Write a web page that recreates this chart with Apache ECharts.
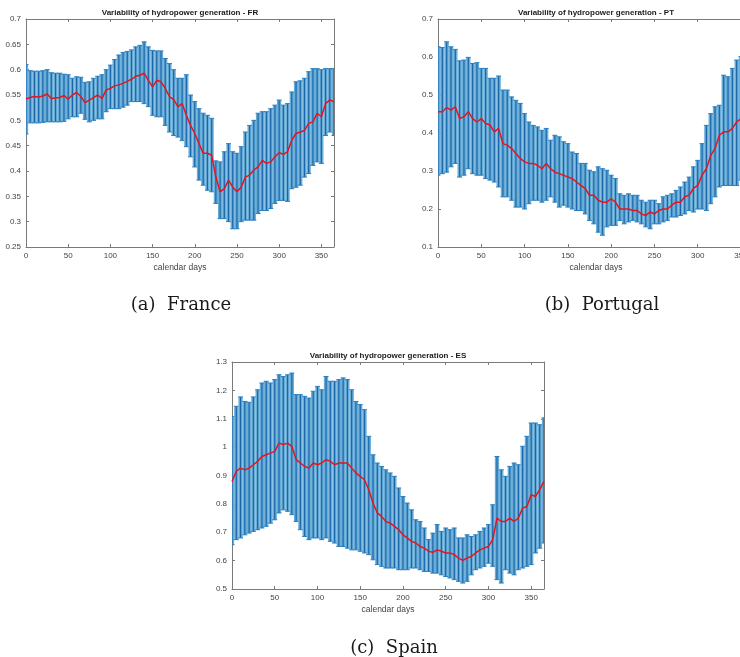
<!DOCTYPE html>
<html>
<head>
<meta charset="utf-8">
<script src="https://cdn.jsdelivr.net/npm/echarts@6/dist/echarts.min.js"></script>
<style>
html,body{margin:0;padding:0;background:#fff;overflow:hidden;width:740px;height:657px;}
#chart{width:770px;height:657px;}
</style>
</head>
<body>
<div id="chart"></div>
<script>
// calendar days (x values)
const days = [0,5,10,15,20,25,30,35,40,45,
  50,55,60,65,70,75,80,85,90,95,
  100,105,110,115,120,125,130,135,140,145,
  150,155,160,165,170,175,180,185,190,195,
  200,205,210,215,220,225,230,235,240,245,
  250,255,260,265,270,275,280,285,290,295,
  300,305,310,315,320,325,330,335,340,345,
  350,355,360,365];

// France
const frHigh = [0.61,0.598,0.597,0.597,0.598,0.6,0.594,0.593,0.593,0.591,
  0.59,0.583,0.586,0.585,0.575,0.576,0.583,0.587,0.59,0.6,
  0.609,0.62,0.629,0.634,0.636,0.639,0.645,0.648,0.655,0.645,
  0.638,0.637,0.637,0.622,0.612,0.6,0.583,0.583,0.59,0.55,
  0.537,0.523,0.514,0.51,0.504,0.42,0.418,0.438,0.454,0.438,
  0.435,0.448,0.477,0.49,0.5,0.514,0.517,0.517,0.523,0.53,
  0.54,0.53,0.533,0.556,0.576,0.578,0.583,0.596,0.602,0.602,
  0.6,0.602,0.602,0.602];
const frLow = [0.473,0.495,0.495,0.495,0.496,0.497,0.497,0.497,0.497,0.498,
  0.503,0.507,0.507,0.514,0.502,0.497,0.5,0.503,0.503,0.517,
  0.523,0.523,0.523,0.526,0.53,0.537,0.537,0.537,0.533,0.527,
  0.51,0.507,0.507,0.49,0.477,0.47,0.467,0.46,0.448,0.428,
  0.408,0.382,0.372,0.362,0.359,0.336,0.306,0.306,0.3,0.286,
  0.286,0.3,0.303,0.303,0.303,0.316,0.322,0.322,0.326,0.336,
  0.342,0.342,0.34,0.365,0.368,0.372,0.388,0.395,0.411,0.418,
  0.415,0.47,0.477,0.47];
const frMean = [0.542,0.545,0.547,0.546,0.548,0.552,0.543,0.544,0.545,0.549,
  0.542,0.55,0.555,0.547,0.535,0.54,0.545,0.55,0.543,0.56,
  0.563,0.568,0.57,0.573,0.577,0.581,0.587,0.589,0.593,0.579,
  0.566,0.579,0.576,0.563,0.547,0.541,0.527,0.533,0.51,0.49,
  0.474,0.454,0.435,0.435,0.431,0.388,0.359,0.365,0.382,0.368,
  0.359,0.368,0.388,0.392,0.402,0.408,0.421,0.415,0.418,0.428,
  0.436,0.433,0.438,0.461,0.474,0.477,0.48,0.494,0.497,0.514,
  0.507,0.533,0.54,0.537];

// Portugal
const ptHigh = [0.627,0.625,0.64,0.627,0.62,0.59,0.592,0.599,0.583,0.585,
  0.57,0.57,0.544,0.544,0.55,0.513,0.513,0.495,0.486,0.478,
  0.451,0.429,0.42,0.416,0.407,0.412,0.381,0.394,0.39,0.377,
  0.372,0.35,0.346,0.32,0.32,0.302,0.298,0.311,0.306,0.302,
  0.289,0.28,0.24,0.236,0.24,0.236,0.236,0.223,0.218,0.223,
  0.223,0.214,0.232,0.236,0.24,0.249,0.258,0.271,0.284,0.311,
  0.328,0.372,0.42,0.451,0.469,0.473,0.552,0.548,0.57,0.592,
  0.601,0.605,0.618,0.623];
const ptLow = [0.289,0.293,0.297,0.311,0.32,0.284,0.289,0.306,0.293,0.289,
  0.289,0.28,0.276,0.271,0.258,0.232,0.232,0.223,0.205,0.205,
  0.2,0.214,0.223,0.223,0.218,0.223,0.232,0.218,0.205,0.21,
  0.205,0.2,0.196,0.196,0.187,0.17,0.161,0.139,0.131,0.153,
  0.157,0.157,0.17,0.161,0.166,0.17,0.166,0.161,0.153,0.148,
  0.161,0.161,0.166,0.17,0.179,0.179,0.183,0.187,0.196,0.192,
  0.2,0.2,0.196,0.214,0.232,0.258,0.262,0.262,0.262,0.262,
  0.276,0.284,0.289,0.289];
const ptMean = [0.456,0.456,0.467,0.46,0.469,0.438,0.443,0.456,0.438,0.429,
  0.438,0.425,0.421,0.403,0.412,0.372,0.368,0.359,0.346,0.333,
  0.324,0.32,0.32,0.315,0.306,0.32,0.306,0.297,0.293,0.289,
  0.284,0.28,0.271,0.262,0.254,0.236,0.236,0.223,0.218,0.218,
  0.227,0.218,0.2,0.2,0.2,0.196,0.196,0.187,0.183,0.192,
  0.187,0.196,0.2,0.2,0.21,0.218,0.218,0.232,0.236,0.254,
  0.262,0.289,0.306,0.341,0.359,0.394,0.403,0.403,0.412,0.429,
  0.438,0.443,0.443,0.447];

// Spain
const esHigh = [1.108,1.144,1.177,1.161,1.158,1.177,1.202,1.226,1.232,1.226,
  1.238,1.255,1.249,1.255,1.261,1.185,1.185,1.179,1.173,1.197,
  1.214,1.202,1.249,1.232,1.232,1.238,1.244,1.238,1.202,1.161,
  1.15,1.132,1.038,0.973,0.944,0.932,0.92,0.909,0.897,0.856,
  0.826,0.803,0.779,0.744,0.738,0.715,0.674,0.697,0.727,0.703,
  0.715,0.709,0.715,0.68,0.68,0.691,0.685,0.691,0.703,0.715,
  0.727,0.797,0.967,0.92,0.897,0.932,0.944,0.938,1.003,1.038,
  1.085,1.085,1.079,1.103];
const esLow = [0.656,0.674,0.68,0.691,0.697,0.703,0.709,0.715,0.721,0.732,
  0.744,0.768,0.779,0.774,0.762,0.738,0.709,0.685,0.674,0.68,
  0.68,0.674,0.68,0.668,0.662,0.65,0.65,0.644,0.638,0.638,
  0.633,0.627,0.621,0.603,0.586,0.58,0.574,0.574,0.574,0.568,
  0.568,0.568,0.574,0.574,0.568,0.562,0.562,0.556,0.556,0.55,
  0.544,0.539,0.533,0.527,0.521,0.527,0.55,0.568,0.574,0.58,
  0.591,0.58,0.533,0.521,0.568,0.556,0.55,0.568,0.574,0.58,
  0.586,0.627,0.644,0.662];
const esMean = [0.879,0.915,0.926,0.92,0.926,0.938,0.95,0.967,0.973,0.979,
  0.985,1.014,1.009,1.014,1.003,0.956,0.944,0.932,0.926,0.944,
  0.938,0.944,0.956,0.95,0.938,0.944,0.944,0.944,0.926,0.909,
  0.897,0.885,0.85,0.803,0.768,0.756,0.738,0.732,0.721,0.709,
  0.691,0.68,0.668,0.662,0.65,0.644,0.633,0.629,0.638,0.633,
  0.627,0.627,0.621,0.609,0.601,0.609,0.615,0.627,0.638,0.644,
  0.65,0.674,0.75,0.738,0.738,0.75,0.738,0.75,0.785,0.791,
  0.832,0.826,0.85,0.879];

const titles = ['Variability of hydropower generation - FR',
                'Variability of hydropower generation - PT',
                'Variability of hydropower generation - ES'];
const captions = ['(a)  France', '(b)  Portugal', '(c)  Spain'];
const yRanges = [[0.25, 0.7, 0.05], [0.1, 0.7, 0.1], [0.5, 1.3, 0.1]];
const panels = [
  {lo: frLow, hi: frHigh, mean: frMean},
  {lo: ptLow, hi: ptHigh, mean: ptMean},
  {lo: esLow, hi: esHigh, mean: esMean}
];

// layout (pixels)
const grids = [
  {left: 26, top: 19, width: 308, height: 228},
  {left: 438, top: 19, width: 316, height: 228},
  {left: 232, top: 362, width: 312, height: 227}
];
const titlePos = [[180, 9], [596, 9], [388, 352]];
const captionPos = [[176, 291], [597, 291], [389, 634]];

const SANS = 'Liberation Sans, Arial, sans-serif';
const boxLine = {show: true, onZero: false, lineStyle: {color: '#7a7a7a', width: 1}};
const tickIn = {show: true, inside: true, length: 3, lineStyle: {color: '#7a7a7a', width: 1}};

const xAxes = [], yAxes = [], series = [], titleArr = [];
panels.forEach((p, i) => {
  const [ymin, ymax, yint] = yRanges[i];
  xAxes.push({
    gridIndex: i, type: 'value', min: 0, max: 365, interval: 50, position: 'bottom',
    axisLine: boxLine, axisTick: tickIn,
    axisLabel: {color: '#444', fontSize: 8, fontFamily: SANS, margin: 5, showMaxLabel: false},
    splitLine: {show: false},
    name: 'calendar days', nameLocation: 'middle', nameGap: 16,
    nameTextStyle: {color: '#444', fontSize: 8.5, fontFamily: SANS}
  });
  xAxes.push({
    gridIndex: i, type: 'value', min: 0, max: 365, interval: 50, position: 'top',
    axisLine: boxLine, axisTick: tickIn, axisLabel: {show: false}, splitLine: {show: false}
  });
  yAxes.push({
    gridIndex: i, type: 'value', min: ymin, max: ymax, interval: yint, position: 'left',
    axisLine: boxLine, axisTick: tickIn,
    axisLabel: {color: '#444', fontSize: 8, fontFamily: SANS, margin: 5},
    splitLine: {show: false}
  });
  yAxes.push({
    gridIndex: i, type: 'value', min: ymin, max: ymax, interval: yint, position: 'right',
    axisLine: boxLine, axisTick: tickIn, axisLabel: {show: false}, splitLine: {show: false}
  });

  const errData = days.map((d, k) => [d, p.lo[k], p.hi[k]]);
  series.push({
    type: 'custom', xAxisIndex: 2 * i, yAxisIndex: 2 * i, clip: true,
    data: errData, z: 2,
    renderItem: function (params, api) {
      const x = api.value(0), l = api.value(1), h = api.value(2);
      const x0 = Math.max(0, x - 2.5), x1 = Math.min(365, x + 2.5);
      const a = api.coord([x0, h]), b = api.coord([x1, l]);
      const c = api.coord([x, h]), e = api.coord([x, l]);
      return {
        type: 'group',
        children: [
          {type: 'rect', shape: {x: a[0], y: a[1], width: b[0] - a[0], height: b[1] - a[1]},
           style: {fill: '#69acd6'}},
          {type: 'line', shape: {x1: c[0], y1: c[1], x2: e[0], y2: e[1]},
           style: {stroke: '#1767ad', lineWidth: 1.2}},
          {type: 'line', shape: {x1: c[0] - 2.5, y1: c[1], x2: c[0] + 2.5, y2: c[1]},
           style: {stroke: '#2a7fc0', lineWidth: 1}},
          {type: 'line', shape: {x1: e[0] - 2.5, y1: e[1], x2: e[0] + 2.5, y2: e[1]},
           style: {stroke: '#2a7fc0', lineWidth: 1}}
        ]
      };
    }
  });
  series.push({
    type: 'line', xAxisIndex: 2 * i, yAxisIndex: 2 * i, z: 5,
    data: days.map((d, k) => [d, p.mean[k]]),
    showSymbol: false, symbol: 'none', silent: true,
    lineStyle: {color: '#e8141b', width: 1.5}
  });

  titleArr.push({
    text: titles[i], left: titlePos[i][0], top: titlePos[i][1], textAlign: 'center', padding: 0,
    textStyle: {fontFamily: SANS, fontSize: 8, fontWeight: 'bold', color: '#1a1a1a'}
  });
  titleArr.push({
    text: captions[i], left: captionPos[i][0], top: captionPos[i][1], textAlign: 'center',
    textStyle: {fontFamily: 'DejaVu Serif, serif', fontSize: 18, fontWeight: 'normal', color: '#1a1a1a'}
  });
});

const chart = echarts.init(document.getElementById('chart'), null, {renderer: 'canvas'});
chart.setOption({
  backgroundColor: '#ffffff',
  animation: false,
  title: titleArr,
  grid: grids,
  xAxis: xAxes,
  yAxis: yAxes,
  series: series
});
</script>
</body>
</html>
